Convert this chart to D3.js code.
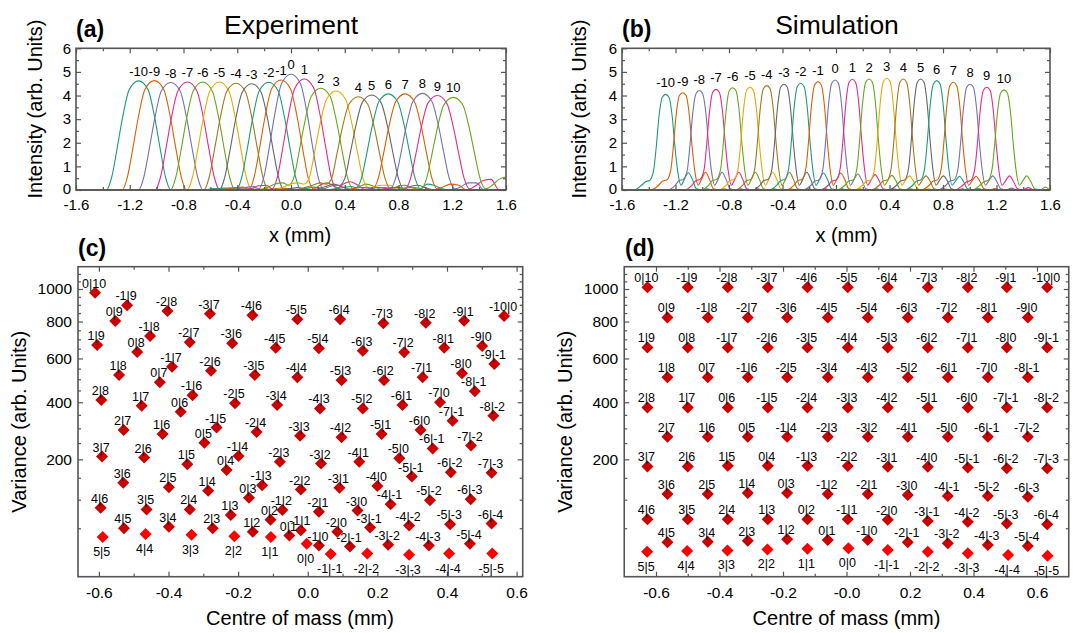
<!DOCTYPE html>
<html>
<head>
<meta charset="utf-8">
<script src="https://cdn.jsdelivr.net/npm/d3@7"></script>
<style>
  body { margin: 0; background: #fff; }
  svg text { font-family: Arial, "Liberation Sans", Helvetica, sans-serif; fill: #000; }
</style>
</head>
<body>
<svg id="fig" width="1082" height="633"></svg>
<script>
// ---------- diffraction orders shown in the intensity profiles ----------
const peakOrders = [-10, -9, -8, -7, -6, -5, -4, -3, -2, -1, 0, 1, 2, 3, 4, 5, 6, 7, 8, 9, 10];

// measured profiles: peak centres (mm) and intensity sampled at centre + offset
const expCentres = [-1.134, -1.017, -0.895, -0.771, -0.657, -0.533, -0.409, -0.293, -0.166, -0.074,
  0.0, 0.099, 0.221, 0.335, 0.501, 0.600, 0.724, 0.849, 0.978, 1.089, 1.208];
const expOffsets = [-0.46, -0.40, -0.34, -0.28, -0.24, -0.20, -0.16, -0.12, -0.07, 0,
  0.07, 0.12, 0.16, 0.20, 0.24, 0.29, 0.34, 0.40, 0.46];
const expLevels = [
  [0, 0, 0, 0, 0, 0.55, 1.76, 3.05, 4.25, 4.62, 4.25, 3.05, 1.76, 0.55, 0, 0, 0, 0, 0],
  [0, 0, 0, 0, 0, 0.56, 1.76, 3.06, 4.26, 4.63, 4.26, 3.06, 1.76, 0.56, 0, 0, 0, 0, 0],
  [0, 0, 0, 0, 0, 0.55, 1.73, 3.00, 4.19, 4.55, 4.19, 3.00, 1.73, 0.55, 0, 0.03, 0.05, 0.03, 0],
  [0, 0, 0, 0, 0, 0.55, 1.74, 3.02, 4.20, 4.57, 4.20, 3.02, 1.74, 0.55, 0, 0.04, 0.06, 0.03, 0],
  [0, 0, 0, 0, 0, 0.55, 1.74, 3.02, 4.20, 4.57, 4.20, 3.02, 1.74, 0.55, 0, 0.03, 0.05, 0.03, 0],
  [0, 0, 0, 0, 0, 0.55, 1.74, 3.02, 4.20, 4.57, 4.20, 3.02, 1.74, 0.55, 0, 0.03, 0.05, 0.03, 0],
  [0, 0, 0, 0, 0, 0.54, 1.72, 2.98, 4.16, 4.52, 4.16, 2.98, 1.72, 0.54, 0, 0.05, 0.08, 0.05, 0],
  [0, 0, 0, 0.05, 0, 0.54, 1.71, 2.97, 4.14, 4.50, 4.14, 2.97, 1.71, 0.54, 0, 0.06, 0.10, 0.05, 0],
  [0, 0.03, 0.08, 0.08, 0, 0.55, 1.73, 3.01, 4.20, 4.56, 4.20, 3.01, 1.73, 0.55, 0, 0.08, 0.12, 0.06, 0],
  [0, 0.05, 0.10, 0.12, 0, 0.56, 1.77, 3.08, 4.29, 4.66, 4.29, 3.08, 1.77, 0.56, 0.05, 0.20, 0.30, 0.15, 0],
  [0, 0.05, 0.10, 0.15, 0.05, 0.59, 1.86, 3.23, 4.51, 4.90, 4.51, 3.23, 1.86, 0.59, 0.05, 0.15, 0.20, 0.10, 0],
  [0, 0.05, 0.18, 0.20, 0.05, 0.56, 1.79, 3.10, 4.32, 4.70, 4.32, 3.10, 1.79, 0.56, 0.05, 0.25, 0.35, 0.20, 0],
  [0, 0.10, 0.25, 0.30, 0.20, 0.52, 1.64, 2.84, 3.97, 4.31, 3.97, 2.84, 1.64, 0.52, 0.05, 0.15, 0.25, 0.15, 0],
  [0, 0.10, 0.25, 0.30, 0.25, 0.50, 1.59, 2.77, 3.85, 4.19, 3.85, 2.77, 1.59, 0.50, 0.10, 0.15, 0.20, 0.20, 0],
  [0, 0.10, 0.20, 0.30, 0.25, 0.47, 1.50, 2.61, 3.63, 3.95, 3.63, 2.61, 1.50, 0.47, 0.05, 0.15, 0.20, 0.10, 0],
  [0, 0.05, 0.15, 0.25, 0.20, 0.48, 1.53, 2.65, 3.70, 4.02, 3.70, 2.65, 1.53, 0.48, 0.05, 0.15, 0.20, 0.10, 0],
  [0, 0.05, 0.10, 0.15, 0.10, 0.49, 1.55, 2.69, 3.74, 4.07, 3.74, 2.69, 1.55, 0.49, 0.05, 0.25, 0.20, 0.05, 0],
  [0, 0.05, 0.10, 0.10, 0.05, 0.49, 1.55, 2.69, 3.74, 4.07, 3.74, 2.69, 1.55, 0.49, 0.05, 0.15, 0.25, 0.20, 0],
  [0, 0.05, 0.10, 0.10, 0.05, 0.49, 1.55, 2.70, 3.76, 4.09, 3.76, 2.70, 1.55, 0.49, 0.05, 0.15, 0.30, 0.30, 0],
  [0, 0.05, 0.10, 0.10, 0.05, 0.48, 1.52, 2.64, 3.68, 4.00, 3.68, 2.64, 1.52, 0.48, 0.05, 0.20, 0.40, 0.45, 0],
  [0, 0.05, 0.10, 0.10, 0.05, 0.47, 1.49, 2.59, 3.61, 3.92, 3.61, 2.59, 1.49, 0.47, 0.05, 0.20, 0.45, 0.55, 0.30]
];

// simulated profiles
const simCentres = [-1.274, -1.146, -1.022, -0.897, -0.773, -0.643, -0.518, -0.389, -0.264, -0.135,
  -0.007, 0.122, 0.247, 0.379, 0.503, 0.633, 0.753, 0.877, 1.002, 1.127, 1.256];
const simOffsets = [-0.24, -0.18, -0.15, -0.12, -0.09, -0.07, -0.05, -0.025, 0, 0.025, 0.05,
  0.07, 0.09, 0.115, 0.14, 0.17, 0.20, 0.23, 0.27, 0.31, 0.35];
const simLevels = [
  [0, 0.20, 0.35, 0.40, 0.81, 1.82, 3.08, 3.93, 4.05, 3.93, 3.08, 1.82, 0.81, 0.20, 0.45, 0.73, 0.45, 0.05, 0, 0.05, 0],
  [0, 0.20, 0.38, 0.42, 0.82, 1.85, 3.13, 4.00, 4.12, 4.00, 3.13, 1.85, 0.82, 0.20, 0.45, 0.75, 0.45, 0.05, 0, 0.05, 0],
  [0, 0.20, 0.40, 0.45, 0.84, 1.89, 3.20, 4.08, 4.21, 4.08, 3.20, 1.89, 0.84, 0.20, 0.45, 0.75, 0.45, 0.05, 0, 0.05, 0],
  [0, 0.20, 0.40, 0.45, 0.85, 1.92, 3.24, 4.13, 4.26, 4.13, 3.24, 1.92, 0.85, 0.20, 0.45, 0.75, 0.45, 0.05, 0, 0.05, 0],
  [0, 0.20, 0.40, 0.45, 0.87, 1.95, 3.29, 4.20, 4.33, 4.20, 3.29, 1.95, 0.87, 0.20, 0.45, 0.75, 0.45, 0.05, 0, 0.05, 0],
  [0, 0.20, 0.40, 0.45, 0.87, 1.96, 3.31, 4.22, 4.35, 4.22, 3.31, 1.96, 0.87, 0.20, 0.45, 0.75, 0.45, 0.05, 0, 0.05, 0],
  [0, 0.20, 0.40, 0.45, 0.88, 1.99, 3.36, 4.29, 4.42, 4.29, 3.36, 1.99, 0.88, 0.20, 0.45, 0.75, 0.45, 0.05, 0, 0.05, 0],
  [0, 0.20, 0.40, 0.45, 0.90, 2.02, 3.40, 4.35, 4.48, 4.35, 3.40, 2.02, 0.90, 0.20, 0.45, 0.75, 0.45, 0.05, 0, 0.05, 0],
  [0, 0.20, 0.40, 0.45, 0.90, 2.03, 3.44, 4.38, 4.52, 4.38, 3.44, 2.03, 0.90, 0.20, 0.45, 0.72, 0.45, 0.05, 0, 0.05, 0],
  [0, 0.20, 0.40, 0.45, 0.92, 2.07, 3.49, 4.45, 4.59, 4.45, 3.49, 2.07, 0.92, 0.20, 0.45, 0.72, 0.45, 0.05, 0, 0.05, 0],
  [0, 0.20, 0.38, 0.42, 0.93, 2.10, 3.54, 4.52, 4.66, 4.52, 3.54, 2.10, 0.93, 0.20, 0.42, 0.68, 0.42, 0.05, 0, 0.05, 0],
  [0, 0.20, 0.38, 0.42, 0.94, 2.11, 3.56, 4.55, 4.69, 4.55, 3.56, 2.11, 0.94, 0.20, 0.42, 0.65, 0.40, 0.05, 0, 0.05, 0],
  [0, 0.20, 0.38, 0.42, 0.94, 2.12, 3.57, 4.56, 4.70, 4.56, 3.57, 2.12, 0.94, 0.20, 0.40, 0.62, 0.40, 0.05, 0, 0.05, 0],
  [0, 0.20, 0.38, 0.42, 0.95, 2.13, 3.59, 4.59, 4.73, 4.59, 3.59, 2.13, 0.95, 0.20, 0.40, 0.60, 0.38, 0.05, 0, 0.05, 0],
  [0, 0.20, 0.38, 0.42, 0.94, 2.12, 3.57, 4.56, 4.70, 4.56, 3.57, 2.12, 0.94, 0.20, 0.40, 0.60, 0.38, 0.05, 0, 0.05, 0],
  [0, 0.20, 0.38, 0.42, 0.94, 2.12, 3.57, 4.56, 4.70, 4.56, 3.57, 2.12, 0.94, 0.20, 0.40, 0.60, 0.38, 0.05, 0, 0.05, 0],
  [0, 0.20, 0.38, 0.42, 0.93, 2.08, 3.52, 4.49, 4.63, 4.49, 3.52, 2.08, 0.93, 0.20, 0.38, 0.58, 0.36, 0.05, 0, 0.06, 0],
  [0, 0.20, 0.38, 0.42, 0.91, 2.05, 3.47, 4.42, 4.56, 4.42, 3.47, 2.05, 0.91, 0.20, 0.38, 0.58, 0.36, 0.05, 0, 0.06, 0],
  [0, 0.20, 0.38, 0.42, 0.90, 2.02, 3.40, 4.35, 4.48, 4.35, 3.40, 2.02, 0.90, 0.20, 0.38, 0.60, 0.36, 0.05, 0, 0.08, 0],
  [0, 0.20, 0.35, 0.40, 0.87, 1.96, 3.31, 4.22, 4.35, 4.22, 3.31, 1.96, 0.87, 0.20, 0.38, 0.60, 0.36, 0.05, 0, 0.10, 0],
  [0, 0.20, 0.35, 0.40, 0.85, 1.91, 3.22, 4.11, 4.24, 4.11, 3.22, 1.91, 0.85, 0.20, 0.38, 0.60, 0.36, 0.05, 0, 0.12, 0]
];

// ---------- mode labels (m|n) for the variance vs centre-of-mass maps ----------
const modeLabels = [
  "0|10", "-1|9", "-2|8", "-3|7", "-4|6", "-5|5", "-6|4", "-7|3", "-8|2", "-9|1", "-10|0",
  "0|9", "-1|8", "-2|7", "-3|6", "-4|5", "-5|4", "-6|3", "-7|2", "-8|1", "-9|0",
  "1|9", "0|8", "-1|7", "-2|6", "-3|5", "-4|4", "-5|3", "-6|2", "-7|1", "-8|0", "-9|-1",
  "1|8", "0|7", "-1|6", "-2|5", "-3|4", "-4|3", "-5|2", "-6|1", "-7|0", "-8|-1",
  "2|8", "1|7", "0|6", "-1|5", "-2|4", "-3|3", "-4|2", "-5|1", "-6|0", "-7|-1", "-8|-2",
  "2|7", "1|6", "0|5", "-1|4", "-2|3", "-3|2", "-4|1", "-5|0", "-6|-1", "-7|-2",
  "3|7", "2|6", "1|5", "0|4", "-1|3", "-2|2", "-3|1", "-4|0", "-5|-1", "-6|-2", "-7|-3",
  "3|6", "2|5", "1|4", "0|3", "-1|2", "-2|1", "-3|0", "-4|-1", "-5|-2", "-6|-3",
  "4|6", "3|5", "2|4", "1|3", "0|2", "-1|1", "-2|0", "-3|-1", "-4|-2", "-5|-3", "-6|-4",
  "4|5", "3|4", "2|3", "1|2", "0|1", "-1|0", "-2|-1", "-3|-2", "-4|-3", "-5|-4",
  "5|5", "4|4", "3|3", "2|2", "1|1", "0|0", "-1|-1", "-2|-2", "-3|-3", "-4|-4", "-5|-5"
];

// experiment: centre of mass (mm) and variance (arb. units)
const expCom = [
  -0.611, -0.519, -0.403, -0.281, -0.159, -0.030, 0.093, 0.217, 0.339, 0.449, 0.564,
  -0.553, -0.453, -0.339, -0.217, -0.092, 0.032, 0.158, 0.277, 0.392, 0.501,
  -0.605, -0.490, -0.390, -0.278, -0.152, -0.030, 0.097, 0.219, 0.330, 0.443, 0.536,
  -0.542, -0.425, -0.331, -0.209, -0.088, 0.035, 0.158, 0.272, 0.380, 0.480,
  -0.593, -0.477, -0.365, -0.262, -0.147, -0.022, 0.097, 0.212, 0.324, 0.416, 0.533,
  -0.529, -0.417, -0.297, -0.199, -0.080, 0.038, 0.148, 0.263, 0.359, 0.469,
  -0.591, -0.470, -0.346, -0.233, -0.131, -0.020, 0.091, 0.200, 0.299, 0.411, 0.528,
  -0.530, -0.399, -0.286, -0.169, -0.073, 0.032, 0.143, 0.238, 0.351, 0.468,
  -0.595, -0.463, -0.339, -0.221, -0.107, -0.020, 0.085, 0.179, 0.291, 0.409, 0.528,
  -0.528, -0.399, -0.273, -0.158, -0.053, 0.032, 0.121, 0.231, 0.348, 0.466,
  -0.589, -0.466, -0.334, -0.211, -0.106, -0.003, 0.066, 0.171, 0.291, 0.406, 0.530
];
const expVariance = [
  976, 897, 862, 846, 837, 813, 813, 790, 793, 805, 832,
  803, 718, 684, 679, 655, 652, 640, 631, 655, 664,
  670, 633, 559, 540, 520, 509, 496, 496, 509, 528, 572,
  520, 486, 429, 396, 389, 375, 375, 389, 400, 447,
  409, 386, 362, 303, 287, 274, 269, 280, 294, 328, 347,
  294, 280, 251, 210, 193, 188, 193, 203, 233, 242,
  208, 205, 186, 170, 132, 122, 126, 130, 153, 164, 163,
  138, 127, 119, 104, 80, 77, 79, 91, 99, 101,
  84, 81, 81, 71, 63, 47, 45, 51, 54, 56, 57,
  50, 52, 50, 45, 40, 28, 27, 29, 28, 30,
  38, 42, 41, 39, 38, 30, 19.5, 20, 19, 20, 20
];

// simulation: centre of mass (mm) and variance (arb. units)
const simCom = [
  -0.627, -0.500, -0.374, -0.248, -0.123, 0.004, 0.130, 0.256, 0.382, 0.505, 0.632,
  -0.564, -0.437, -0.311, -0.187, -0.059, 0.067, 0.193, 0.319, 0.445, 0.571,
  -0.627, -0.500, -0.374, -0.248, -0.123, 0.004, 0.130, 0.256, 0.382, 0.505, 0.632,
  -0.564, -0.437, -0.311, -0.187, -0.059, 0.067, 0.193, 0.319, 0.445, 0.571,
  -0.627, -0.500, -0.374, -0.248, -0.123, 0.004, 0.130, 0.256, 0.382, 0.505, 0.632,
  -0.564, -0.437, -0.311, -0.187, -0.059, 0.067, 0.193, 0.319, 0.445, 0.571,
  -0.627, -0.500, -0.374, -0.248, -0.123, 0.004, 0.130, 0.256, 0.382, 0.505, 0.632,
  -0.564, -0.437, -0.311, -0.187, -0.059, 0.067, 0.193, 0.319, 0.445, 0.571,
  -0.627, -0.500, -0.374, -0.248, -0.123, 0.004, 0.130, 0.256, 0.382, 0.505, 0.632,
  -0.564, -0.437, -0.311, -0.187, -0.059, 0.067, 0.193, 0.319, 0.445, 0.571,
  -0.628, -0.502, -0.375, -0.249, -0.123, 0.006, 0.130, 0.256, 0.382, 0.509, 0.633
];
const simVariance = [
  1011, 1011, 1011, 1011, 1011, 1011, 1011, 1011, 1011, 1011, 1011,
  824, 824, 824, 824, 824, 824, 824, 824, 824, 824,
  657, 657, 657, 657, 657, 657, 657, 657, 657, 657, 657,
  509, 509, 509, 509, 509, 509, 509, 509, 509, 509,
  379, 379, 379, 379, 379, 379, 379, 379, 379, 379, 379,
  271, 271, 271, 271, 271, 271, 271, 271, 271, 271,
  180, 180, 182, 182, 182, 181, 179, 179, 177, 175, 175,
  112, 112, 114, 114, 112, 112, 110, 108, 108, 106,
  64, 64, 64, 64, 64, 64, 63, 61, 60, 57, 56,
  31.6, 32.3, 33.5, 35.2, 34.3, 34.3, 31.6, 30.5, 28.6, 27.5,
  21.7, 22.4, 23.0, 24.0, 24.7, 25.1, 23.4, 21.7, 20.2, 18.7, 18.0
];

// axis ticks
const profileXTicks = [-1.6, -1.2, -0.8, -0.4, 0.0, 0.4, 0.8, 1.2, 1.6];
const profileXMinor = [-1.4, -1.0, -0.6, -0.2, 0.2, 0.6, 1.0, 1.4];
const profileYTicks = [0, 1, 2, 3, 4, 5, 6];
const profileYMinor = [0.5, 1.5, 2.5, 3.5, 4.5, 5.5];
const comTicks = [-0.6, -0.4, -0.2, 0.0, 0.2, 0.4, 0.6];
const comMinor = [-0.5, -0.3, -0.1, 0.1, 0.3, 0.5];
const varianceTicks = [200, 400, 600, 800, 1000];
const varianceMinor = [50, 100, 150, 250, 300, 350, 450, 500, 550, 650, 700, 750, 850, 900, 950, 1050, 1100];

// ---------- drawing ----------
const svg = d3.select("#fig");
svg.append("rect").attr("width", 1082).attr("height", 633).attr("fill", "#fff");
const palette = d3.schemeDark2;
const frameColor = "#555";
const defs = svg.append("defs");

function styleAxis(sel, fontSize) {
  sel.select(".domain").remove();
  sel.selectAll(".tick line").attr("stroke", frameColor).attr("stroke-width", 1.2);
  sel.selectAll(".tick text").attr("font-size", fontSize).attr("fill", "#000")
    .attr("font-family", "Arial, 'Liberation Sans', sans-serif");
}

function drawFrame(g, x, y, o) {
  const [x0, x1] = x.range();
  const [yb, yt] = y.range();
  const put = (axis, tx, ty) => g.append("g").attr("transform", `translate(${tx},${ty})`).call(axis);
  const none = () => "";
  // bottom (labelled) and top
  styleAxis(put(d3.axisBottom(x).tickValues(o.xMajor).tickSize(-5).tickPadding(o.xPad).tickFormat(o.xFmt), 0, yb), o.font);
  styleAxis(put(d3.axisBottom(x).tickValues(o.xMinor).tickSize(-3).tickFormat(none), 0, yb), o.font);
  styleAxis(put(d3.axisTop(x).tickValues(o.xMajor).tickSize(-5).tickFormat(none), 0, yt), o.font);
  styleAxis(put(d3.axisTop(x).tickValues(o.xMinor).tickSize(-3).tickFormat(none), 0, yt), o.font);
  // left (labelled) and right
  const left = put(d3.axisLeft(y).tickValues(o.yMajor).tickSize(-5).tickPadding(o.yPad).tickFormat(o.yFmt), x0, 0);
  styleAxis(left, o.font);
  if (o.lift) left.selectAll(".tick text").attr("dy", (d, i) => (i === 0 ? "0.2em" : "0.32em"));
  styleAxis(put(d3.axisLeft(y).tickValues(o.yMinor).tickSize(-3).tickFormat(none), x0, 0), o.font);
  styleAxis(put(d3.axisRight(y).tickValues(o.yMajor).tickSize(-5).tickFormat(none), x1, 0), o.font);
  styleAxis(put(d3.axisRight(y).tickValues(o.yMinor).tickSize(-3).tickFormat(none), x1, 0), o.font);
  g.append("rect").attr("x", x0).attr("y", yt).attr("width", x1 - x0).attr("height", yb - yt)
    .attr("fill", "none").attr("stroke", frameColor).attr("stroke-width", 1.6);
}

function addText(txt, x, y, size, opts = {}) {
  const t = svg.append("text").attr("x", x).attr("y", y).attr("font-size", size)
    .attr("text-anchor", opts.anchor || "middle").text(txt);
  if (opts.bold) t.attr("font-weight", "bold");
  if (opts.rotate) t.attr("transform", `rotate(-90,${x},${y})`);
  return t;
}

function drawProfiles(p) {
  const x = d3.scaleLinear().domain([-1.6, 1.6]).range([p.left, p.right]);
  const y = d3.scaleLinear().domain([0, 6]).range([190, 48.3]);
  const clipId = "clip-" + p.id;
  defs.append("clipPath").attr("id", clipId).append("rect")
    .attr("x", p.left).attr("y", 48.3).attr("width", p.right - p.left).attr("height", 190 - 48.3 + 1);
  const g = svg.append("g");
  const plot = g.append("g").attr("clip-path", `url(#${clipId})`);
  const line = d3.line().x(d => x(d[0])).y(d => y(d[1])).curve(d3.curveMonotoneX);
  p.levels.forEach((lv, i) => {
    const pts = [[-1.7, 0]].concat(p.offsets.map((o, j) => [p.centres[i] + o, lv[j]]), [[1.7, 0]]);
    plot.append("path").attr("d", line(pts)).attr("fill", "none")
      .attr("stroke", palette[i % palette.length]).attr("stroke-width", 1.1);
  });
  peakOrders.forEach((n, i) => {
    g.append("text").attr("x", x(p.centres[i])).attr("y", y(d3.max(p.levels[i])) - p.labelGap)
      .attr("text-anchor", "middle").attr("font-size", 13).text(n);
  });
  drawFrame(g, x, y, {
    xMajor: profileXTicks, xMinor: profileXMinor, yMajor: profileYTicks, yMinor: profileYMinor,
    xFmt: d => d.toFixed(1), yFmt: d => String(d), xPad: 9.5, yPad: 5, font: 15, lift: true
  });
}

function drawModes(p) {
  const x = d3.scaleLinear().domain(p.xDomain).range([p.left, p.right]);
  const y = d3.scaleSqrt().domain([4.4, 1150]).range([576.7, 266.7]);
  const g = svg.append("g");
  drawFrame(g, x, y, {
    xMajor: comTicks, xMinor: comMinor, yMajor: varianceTicks, yMinor: varianceMinor,
    xFmt: p.xFmt, yFmt: d => String(d), xPad: 10, yPad: 6, font: 15.5
  });
  const diamond = "M0,-6L6,0L0,6L-6,0Z";
  p.labels.forEach((lab, i) => {
    const [m, n] = lab.split("|").map(Number);
    const cx = x(p.com[i]), cy = y(p.variance[i]);
    const diag = m === n;
    g.append("path").attr("d", diamond).attr("transform", `translate(${cx},${cy})`)
      .attr("fill", diag ? "#ff0000" : "#cc0000");
    g.append("text").attr("x", cx - 1).attr("y", diag ? cy + 19 : cy - 5)
      .attr("text-anchor", "middle").attr("font-size", 12.5).text(lab);
  });
}

drawProfiles({ id: "a", left: 76, right: 506, centres: expCentres, offsets: expOffsets, levels: expLevels, labelGap: 5 });
drawProfiles({ id: "b", left: 622, right: 1050, centres: simCentres, offsets: simOffsets, levels: simLevels, labelGap: 7 });
drawModes({ left: 78, right: 522.7, xDomain: [-0.660, 0.6175], labels: modeLabels, com: expCom, variance: expVariance,
  xFmt: d => d.toFixed(1) });
drawModes({ left: 624.25, right: 1068.75, xDomain: [-0.7, 0.7], labels: modeLabels, com: simCom, variance: simVariance,
  xFmt: d => (d === 0 ? "-0.0" : d.toFixed(1)) });

// titles and axis labels
addText("Experiment", 291, 33.5, 26.5);
addText("Simulation", 837, 33.5, 26.5);
addText("(a)", 76, 37, 23, { anchor: "start", bold: true });
addText("(b)", 622, 37, 23, { anchor: "start", bold: true });
addText("(c)", 78, 256, 23, { anchor: "start", bold: true });
addText("(d)", 625, 256, 23, { anchor: "start", bold: true });
addText("x (mm)", 300, 241.5, 20);
addText("x (mm)", 846.5, 241.5, 20);
addText("Centre of mass (mm)", 300, 625, 20);
addText("Centre of mass (mm)", 846.5, 625, 20);
addText("Intensity (arb. Units)", 41.5, 109, 20, { rotate: true });
addText("Intensity (arb. Units)", 586, 109, 20, { rotate: true });
addText("Variance (arb. Units)", 26, 421.7, 20, { rotate: true });
addText("Variance (arb. Units)", 572, 421.7, 20, { rotate: true });
</script>
</body>
</html>
